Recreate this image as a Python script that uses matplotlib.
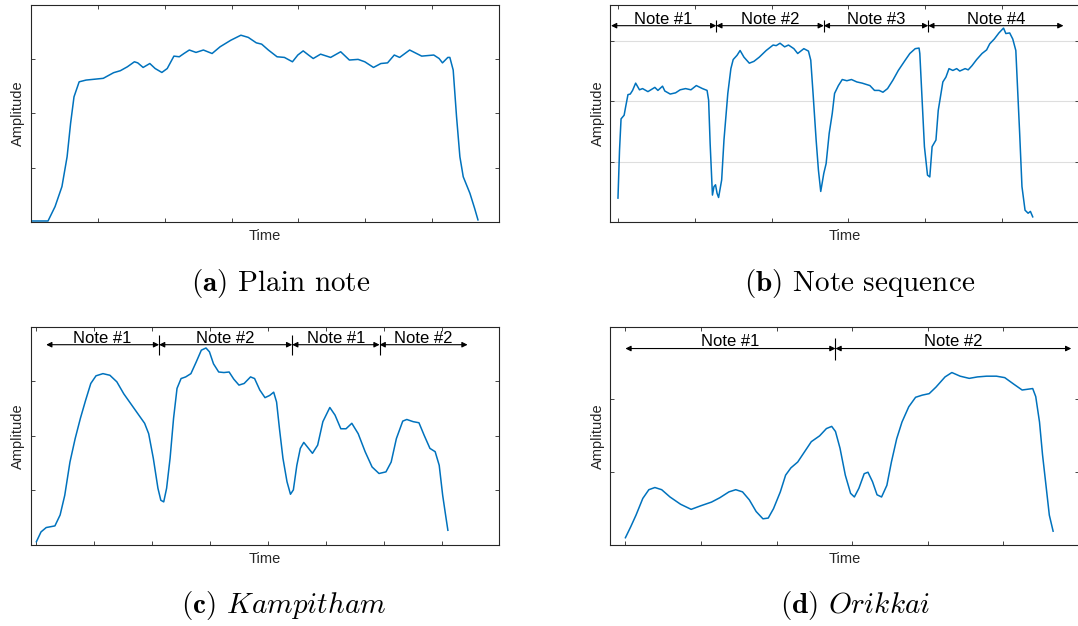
import matplotlib.pyplot as plt

plt.rcParams['mathtext.fontset'] = 'cm'

# (a) plain note
plain_time = [0, 2.6, 3.65, 4.68, 5.45, 5.97, 6.48, 7.25, 8.28, 10.85, 12.4, 13.4, 14.45, 15.5, 16.0, 16.8,
              17.8, 18.6, 19.6, 20.4, 21.4, 22.2, 22.9, 23.7, 24.7, 25.8, 27.1, 28.3, 29.9, 31.4, 32.5, 33.7,
              34.5, 35.5, 36.8, 37.9, 39.1, 39.9, 40.7, 41.5, 42.2, 43.3, 44.8, 46.3, 47.6, 48.9, 49.9, 51.2,
              52.3, 53.3, 54.3, 55.1, 56.6, 58.4, 60.2, 61.0, 61.5, 62.3, 62.6, 63.1, 63.6, 64.1, 64.6, 65.6,
              66.3, 66.8]
plain_amp = [0.6, 0.6, 7.2, 16.4, 30.1, 45.4, 57.6, 64.5, 65.3, 66.1, 68.7, 69.6, 71.4, 73.7, 73.2, 71.1,
             72.9, 70.6, 68.8, 70.6, 76.3, 76.0, 77.5, 79.1, 78.0, 79.1, 77.5, 80.6, 83.6, 85.9, 84.9, 82.4,
             81.8, 79.1, 76.0, 75.7, 73.7, 76.8, 78.7, 76.8, 75.2, 77.2, 75.7, 78.3, 74.5, 74.8, 73.7, 71.1,
             72.9, 73.2, 76.8, 75.7, 79.1, 76.3, 76.8, 75.2, 73.2, 75.7, 75.7, 69.9, 48.5, 30.1, 20.9, 13.3,
             6.4, 1.1]

# (b) note sequence
seq_time = [0, 0.02, 0.04, 0.08, 0.10, 0.13, 0.16, 0.19, 0.23, 0.28,
            0.32, 0.39, 0.48, 0.52, 0.58, 0.61, 0.68, 0.75, 0.81, 0.88,
            0.95, 1.02, 1.10, 1.16, 1.18, 1.20, 1.23, 1.25, 1.27, 1.29,
            1.31, 1.35, 1.38, 1.43, 1.47, 1.50, 1.55, 1.59, 1.64, 1.71,
            1.77, 1.84, 1.93, 2.02, 2.06, 2.11, 2.17, 2.22, 2.29, 2.34,
            2.42, 2.48, 2.51, 2.54, 2.58, 2.61, 2.64, 2.68, 2.71, 2.75,
            2.79, 2.82, 2.87, 2.92, 2.98, 3.04, 3.11, 3.18, 3.28, 3.34,
            3.40, 3.45, 3.51, 3.58, 3.65, 3.74, 3.80, 3.87, 3.92, 3.93,
            3.96, 3.99, 4.03, 4.06, 4.09, 4.14, 4.17, 4.23, 4.27, 4.31,
            4.36, 4.41, 4.45, 4.52, 4.56, 4.61, 4.67, 4.74, 4.80, 4.84,
            4.90, 4.96, 5.02, 5.05, 5.10, 5.14, 5.18, 5.20, 5.23, 5.26,
            5.30, 5.34, 5.37, 5.40]
seq_amp = [0.40, 1.19, 1.71, 1.77, 1.91, 2.11, 2.12, 2.18, 2.30, 2.19,
           2.21, 2.16, 2.23, 2.18, 2.25, 2.17, 2.12, 2.14, 2.19, 2.21,
           2.19, 2.26, 2.21, 2.18, 2.02, 1.30, 0.45, 0.59, 0.62, 0.48,
           0.41, 0.70, 1.36, 2.13, 2.54, 2.69, 2.76, 2.84, 2.73, 2.63,
           2.66, 2.73, 2.84, 2.93, 2.92, 2.96, 2.90, 2.93, 2.87, 2.79,
           2.87, 2.83, 2.68, 2.13, 1.36, 0.86, 0.51, 0.81, 0.97, 1.47,
           1.80, 2.13, 2.26, 2.36, 2.34, 2.36, 2.32, 2.30, 2.26, 2.18,
           2.18, 2.15, 2.21, 2.35, 2.51, 2.68, 2.79, 2.87, 2.88, 2.79,
           2.02, 1.25, 0.78, 0.75, 1.25, 1.36, 1.85, 2.32, 2.40, 2.54,
           2.51, 2.54, 2.50, 2.54, 2.52, 2.59, 2.69, 2.79, 2.85, 2.95,
           3.03, 3.13, 3.21, 3.12, 3.13, 3.03, 2.84, 2.29, 1.47, 0.59,
           0.20, 0.15, 0.18, 0.09]
seq_bounds = [-0.09, 1.28, 2.68, 4.04, 5.80]
seq_notes = ['Note #1', 'Note #2', 'Note #3', 'Note #4']

# (c) Kampitham
kamp_time = [0, 0.08, 0.17, 0.32, 0.41, 0.49, 0.58, 0.67, 0.76, 0.85,
             0.94, 1.03, 1.15, 1.27, 1.39, 1.51, 1.63, 1.75, 1.87, 1.94,
             2.02, 2.10, 2.15, 2.20, 2.25, 2.31, 2.37, 2.43, 2.50, 2.58,
             2.67, 2.76, 2.85, 2.93, 2.99, 3.06, 3.15, 3.24, 3.33, 3.41,
             3.50, 3.59, 3.70, 3.77, 3.86, 3.95, 4.03, 4.10, 4.15, 4.20,
             4.26, 4.33, 4.39, 4.44, 4.50, 4.56, 4.62, 4.68, 4.77, 4.86,
             4.95, 5.07, 5.16, 5.26, 5.35, 5.45, 5.56, 5.68, 5.80, 5.92,
             6.04, 6.13, 6.22, 6.33, 6.40, 6.51, 6.61, 6.70, 6.80, 6.89,
             6.96, 7.02, 7.07, 7.11]
kamp_amp = [0.06, 0.24, 0.32, 0.35, 0.55, 0.91, 1.52, 1.95, 2.32, 2.65,
            2.96, 3.10, 3.14, 3.11, 2.99, 2.77, 2.59, 2.41, 2.23, 2.04,
            1.59, 1.04, 0.82, 0.79, 1.04, 1.59, 2.32, 2.87, 3.05, 3.08,
            3.14, 3.35, 3.57, 3.61, 3.54, 3.32, 3.17, 3.16, 3.17, 3.04,
            2.93, 2.96, 3.08, 3.05, 2.84, 2.70, 2.74, 2.80, 2.62, 2.13,
            1.59, 1.16, 0.93, 1.01, 1.46, 1.77, 1.88, 1.80, 1.68, 1.83,
            2.26, 2.52, 2.38, 2.13, 2.13, 2.23, 2.04, 1.71, 1.43, 1.31,
            1.34, 1.52, 1.95, 2.27, 2.30, 2.26, 2.24, 2.01, 1.77, 1.71,
            1.46, 0.91, 0.55, 0.27]
kamp_bounds = [0.17, 2.12, 4.42, 5.93, 7.45]
kamp_notes = ['Note #1', 'Note #2', 'Note #1', 'Note #2']

# (d) Orikkai
orik_time = [0, 0.07, 0.14, 0.23, 0.31, 0.39, 0.48, 0.59, 0.73, 0.87,
             1.00, 1.14, 1.25, 1.37, 1.46, 1.55, 1.64, 1.73, 1.82, 1.89,
             1.96, 2.05, 2.12, 2.19, 2.28, 2.37, 2.46, 2.57, 2.66, 2.73,
             2.78, 2.84, 2.91, 2.98, 3.03, 3.09, 3.16, 3.21, 3.27, 3.33,
             3.39, 3.46, 3.52, 3.59, 3.66, 3.75, 3.84, 3.93, 4.02, 4.11,
             4.23, 4.32, 4.43, 4.55, 4.66, 4.78, 4.91, 5.02, 5.14, 5.25,
             5.32, 5.39, 5.43, 5.48, 5.52, 5.57, 5.61, 5.66]
orik_amp = [0.10, 0.25, 0.41, 0.64, 0.76, 0.79, 0.76, 0.66, 0.56, 0.49,
            0.54, 0.59, 0.65, 0.73, 0.76, 0.73, 0.62, 0.46, 0.36, 0.37,
            0.50, 0.73, 0.96, 1.06, 1.14, 1.28, 1.42, 1.50, 1.60, 1.63,
            1.56, 1.33, 0.96, 0.71, 0.66, 0.78, 0.98, 1.00, 0.87, 0.69,
            0.66, 0.82, 1.14, 1.46, 1.69, 1.90, 2.03, 2.06, 2.08, 2.17,
            2.31, 2.37, 2.32, 2.29, 2.31, 2.32, 2.32, 2.30, 2.21, 2.13,
            2.14, 2.15, 2.04, 1.69, 1.24, 0.78, 0.41, 0.19]
orik_bounds = [0.0, 2.78, 5.90]
orik_notes = ['Note #1', 'Note #2']

captions = [r'$\mathbf{(a)}$ Plain note', r'$\mathbf{(b)}$ Note sequence',
            r'$\mathbf{(c)}$ $\mathit{Kampitham}$', r'$\mathbf{(d)}$ $\mathit{Orikkai}$']

LINE = '#0072BD'
FRAME = '#262626'
W, H = 1078, 626


def px_axes(fig, left, right, top, bottom):
    return fig.add_axes([left / W, 1 - bottom / H, (right - left) / W, (bottom - top) / H])


def style(ax, xlim, ylim, xticks, yticks, grid=False):
    ax.set_xlim(*xlim)
    ax.set_ylim(*ylim)
    ax.set_xticks(xticks)
    ax.set_yticks(yticks)
    ax.tick_params(direction='in', length=3, width=0.6, color=FRAME, top=True, right=True,
                   labelbottom=False, labelleft=False)
    for sp in ax.spines.values():
        sp.set_color(FRAME)
        sp.set_linewidth(0.8)
    if grid:
        ax.grid(axis='y', color='#dedede', linewidth=0.8)
        ax.set_axisbelow(True)
    ax.set_xlabel('Time', family='Liberation Sans', fontsize=10.5, color=FRAME, labelpad=5)
    ax.set_ylabel('Amplitude', family='Liberation Sans', fontsize=10.5, color=FRAME, labelpad=4)


def note_arrows(ax, bounds, names, y, sep_size):
    for i, name in enumerate(names):
        ax.annotate('', xy=(bounds[i + 1], y), xytext=(bounds[i], y),
                    arrowprops=dict(arrowstyle='<|-|>', color='black', lw=0.8,
                                    mutation_scale=8, shrinkA=0, shrinkB=0))
        ax.annotate(name, xy=((bounds[i] + bounds[i + 1]) / 2, y), xytext=(0, 1.5),
                    textcoords='offset points', ha='center', va='baseline',
                    family='Liberation Sans', fontsize=12, color='black')
    ax.plot(bounds[1:-1], [y] * (len(bounds) - 2), linestyle='none', marker='|',
            markersize=sep_size, markeredgewidth=0.8, color='black')


fig = plt.figure(figsize=(W / 100, H / 100), dpi=100)

ax_a = px_axes(fig, 30.6, 499.4, 4.5, 222.3)
ax_a.plot(plain_time, plain_amp, color=LINE, lw=1.1)
style(ax_a, (0, 70), (0, 100), range(0, 71, 10), [0, 25, 50, 75, 100])

ax_b = px_axes(fig, 610.3, 1078.8, 4.5, 222.3)
ax_b.plot(seq_time, seq_amp, color=LINE, lw=1.1)
style(ax_b, (-0.1, 6.0), (0, 3.6), range(0, 7), [0, 1, 2, 3], grid=True)
note_arrows(ax_b, seq_bounds, seq_notes, 3.25, 8)

ax_c = px_axes(fig, 30.6, 499.4, 326.7, 545)
ax_c.plot(kamp_time, kamp_amp, color=LINE, lw=1.1)
style(ax_c, (-0.1, 8.0), (0, 4.0), range(0, 9), [0, 1, 2, 3, 4])
note_arrows(ax_c, kamp_bounds, kamp_notes, 3.67, 14)

ax_d = px_axes(fig, 610.3, 1078.8, 326.7, 545)
ax_d.plot(orik_time, orik_amp, color=LINE, lw=1.1)
style(ax_d, (-0.2, 6.0), (0, 3.0), range(0, 7), [0, 1, 2, 3])
note_arrows(ax_d, orik_bounds, orik_notes, 2.70, 16)

cap_pos = [(281, 284), (860, 284), (284, 605), (855, 605)]
for text, (cx, cy) in zip(captions, cap_pos):
    fig.text(cx / W, 1 - cy / H, text, family='cmr10', fontsize=21, ha='center', va='center')

fig.savefig('out.png', dpi=100)
